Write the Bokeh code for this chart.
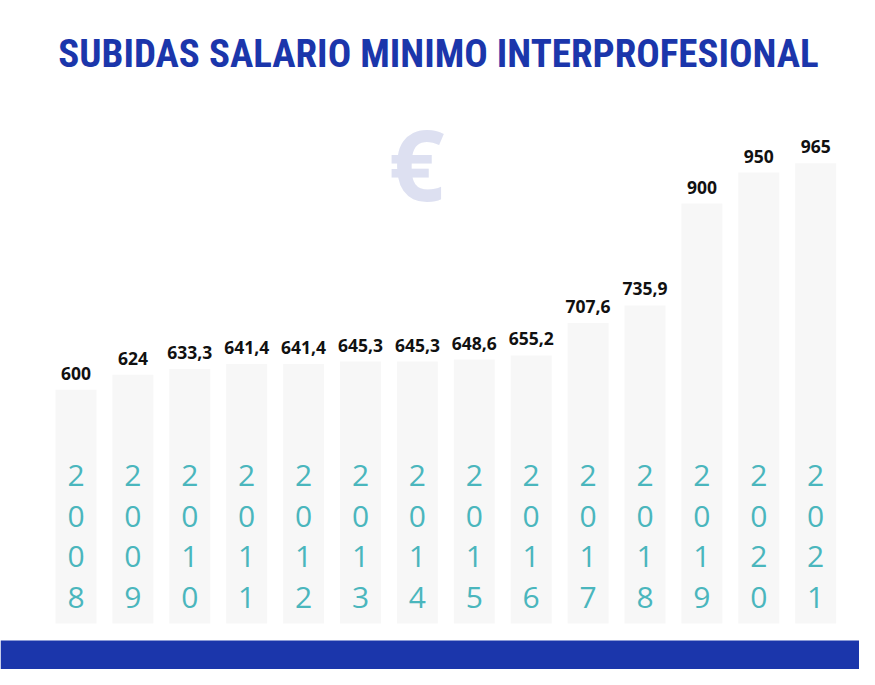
from bokeh.plotting import figure
from bokeh.models import (ColumnDataSource, Range1d, Label, LabelSet, BoxAnnotation)
from bokeh.core.properties import value
from bokeh.embed import file_html
from bokeh.resources import INLINE

# ---- data ----
years = ["2008", "2009", "2010", "2011", "2012", "2013", "2014",
         "2015", "2016", "2017", "2018", "2019", "2020", "2021"]
values = [600, 624, 633.3, 641.4, 641.4, 645.3, 645.3,
          648.6, 655.2, 707.6, 735.9, 900, 950, 965]
value_labels = ["600", "624", "633,3", "641,4", "641,4", "645,3", "645,3",
                "648,6", "655,2", "707,6", "735,9", "900", "950", "965"]
title_text = "SUBIDAS SALARIO MINIMO INTERPROFESIONAL"

# ---- style ----
W, H = 859, 669
BLUE = "#1b36ab"
TEAL = "#4ab6bd"
BAR = "#f7f7f7"
EURO = "#dde0f1"
BASE = 223.3          # value at bar foot

xs = list(range(len(years)))
src = ColumnDataSource(dict(x=xs, value=values, label=value_labels))

p = figure(width=W, height=H, output_backend="svg", toolbar_location=None,
           x_range=Range1d(-1.327, 13.770), y_range=Range1d(149.2, 1227.2),
           x_axis_type=None, y_axis_type=None, min_border=0,
           background_fill_color="white", border_fill_color="white")
p.outline_line_color = None

# bottom band
p.add_layout(BoxAnnotation(bottom=0, top=29, bottom_units="screen", top_units="screen",
                           fill_color=BLUE, fill_alpha=1, line_color=None, level="underlay"))

# euro symbol
p.add_layout(Label(x=416, y=H - 162.5, x_units="screen", y_units="screen", text="€",
                   text_font="Open Sans", text_font_style="bold", text_font_size="98px",
                   text_color=EURO, text_align="center", text_baseline="middle"))

# bars
p.vbar(x="x", top="value", bottom=BASE, width=0.72, source=src,
       fill_color=BAR, line_color=None)

# value labels
p.add_layout(LabelSet(x="x", y="value", text="label", source=src, y_offset=10,
                      text_font=value("Open Sans"), text_font_style="bold",
                      text_font_size="17.5px", text_color="#111111",
                      text_align="center", text_baseline="alphabetic"))

# year digits, stacked
dx, dy, dd = [], [], []
for i, yr in enumerate(years):
    for k, ch in enumerate(yr):
        dx.append(i)
        dy.append(H - 475 - k * 40.5)
        dd.append(ch)
dsrc = ColumnDataSource(dict(x=dx, y=dy, d=dd))
p.add_layout(LabelSet(x="x", y="y", y_units="screen", text="d", source=dsrc,
                      text_font=value("Open Sans"), text_font_size="30px",
                      text_color=TEAL, text_align="center", text_baseline="middle"))

# title
p.add_layout(Label(x=438, y=H - 53, x_units="screen", y_units="screen", text=title_text,
                   text_font="Liberation Sans Narrow, Roboto Condensed, DejaVu Sans Condensed, Roboto",
                   text_font_style="bold", text_font_size="39px",
                   text_color=BLUE, text_align="center", text_baseline="middle"))

open("out.html", "w").write(file_html(p, INLINE))
